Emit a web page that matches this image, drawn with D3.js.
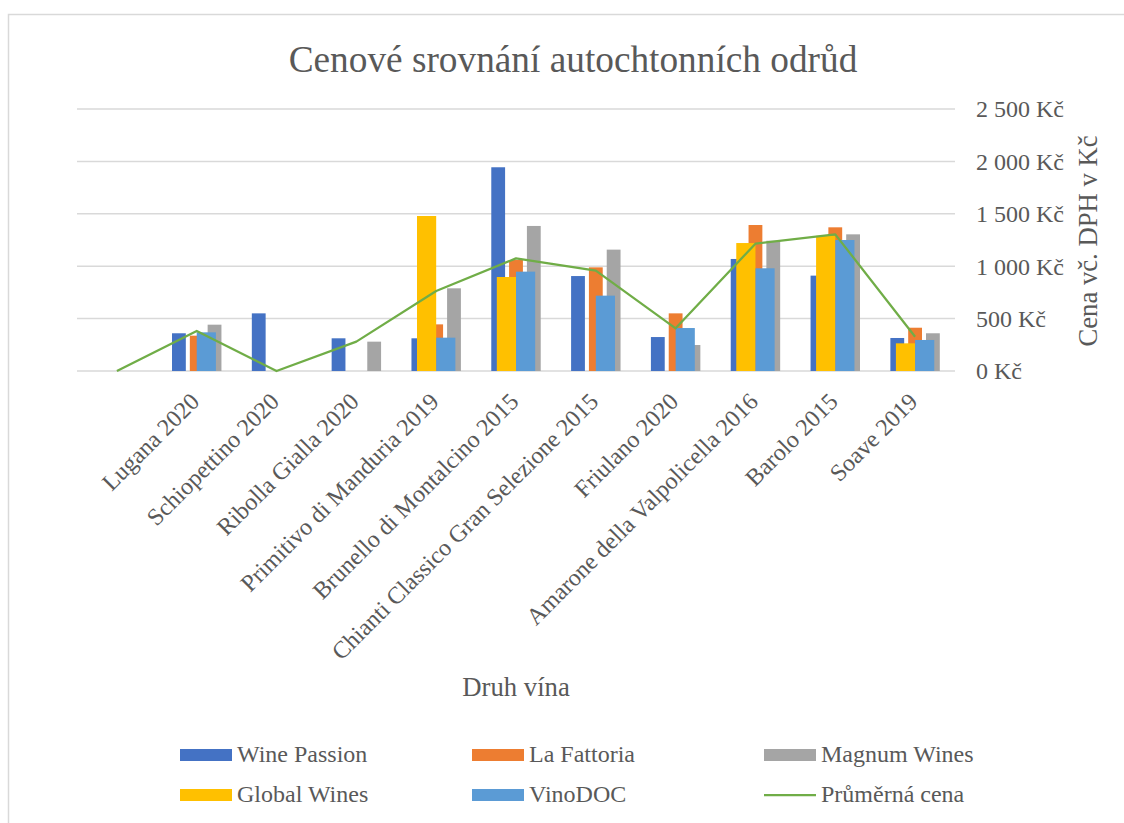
<!DOCTYPE html>
<html><head><meta charset="utf-8">
<script src="https://cdn.jsdelivr.net/npm/d3@7"></script>
<style>body{margin:0;background:#fff}svg{display:block}</style>
</head><body>
<script>
const categories = ["", "Lugana 2020", "Schiopettino 2020", "Ribolla Gialla 2020", "Primitivo di Manduria 2019", "Brunello di Montalcino 2015", "Chianti Classico Gran Selezione 2015", "Friulano 2020", "Amarone della Valpolicella 2016", "Barolo 2015", "Soave 2019"];
const winePassion = [null, 360, 550, 312, 312, 1944, 906, 324, 1069, 910, 315];
const laFattoria  = [null, 337, null, null, 445, 1059, 989, 550, 1393, 1371, 413];
const magnumWines = [null, 442, null, 280, 789, 1384, 1158, 248, 1243, 1304, 360];
const globalWines = [null, null, null, null, 1479, 897, null, null, 1221, 1290, 264];
const vinoDOC     = [null, 369, null, null, 318, 948, 719, 410, 980, 1250, 296];
const prumernaCena = [0, 382, 0, 280, 763, 1075, 957, 407, 1215, 1304, 327];
const yTicks = [0, 500, 1000, 1500, 2000, 2500];
const seriesNames = ["Wine Passion", "La Fattoria", "Magnum Wines", "Global Wines", "VinoDOC", "Průměrná cena"];

const colors = {"Wine Passion":"#4472C4","La Fattoria":"#ED7D31","Magnum Wines":"#A5A5A5","Global Wines":"#FFC000","VinoDOC":"#5B9BD5","Průměrná cena":"#70AD47"};
const W = 1124, H = 823;
const FONT = "'Liberation Serif','Times New Roman',serif";
const TXT = "#595959";
const svg = d3.select("body").append("svg").attr("width", W).attr("height", H).style("font-family", FONT);

svg.append("rect").attr("x", 8.5).attr("y", 14.5).attr("width", 1300).attr("height", 1000)
  .attr("fill", "#fff").attr("stroke", "#D9D9D9").attr("stroke-width", 1.5);

const plot = {left: 77, right: 955, top: 109, bottom: 371};
const x = d3.scaleBand().domain(categories).range([plot.left, plot.right]).padding(0);
const y = d3.scaleLinear().domain([0, 2500]).range([plot.bottom, plot.top]);

// gridlines
svg.append("g").selectAll("line").data(yTicks).join("line")
  .attr("x1", plot.left).attr("x2", plot.right)
  .attr("y1", d => y(d)).attr("y2", d => y(d))
  .attr("stroke", "#D9D9D9").attr("stroke-width", 1.5);

// right axis labels
const yAxis = d3.axisRight(y).tickValues(yTicks).tickSize(0).tickPadding(0)
  .tickFormat(d => d3.format(",")(d).replace(/,/g, " ") + " Kč");
const ya = svg.append("g").attr("transform", `translate(976,0)`).call(yAxis);
ya.select(".domain").remove();
ya.selectAll("text").attr("fill", TXT).style("font-size", "24px").style("font-family", FONT).attr("dy", "0.33em");

// bar groups (Excel-like: gap width / overlap)
const bw = x.bandwidth();
function groupLayout(n, gap, overlap) {
  const w = bw / (n - (n - 1) * overlap + gap);
  const step = w * (1 - overlap);
  const total = w + step * (n - 1);
  return i => ({off: -total / 2 + i * step, w});
}
const groupA = [["Wine Passion", winePassion], ["La Fattoria", laFattoria], ["Magnum Wines", magnumWines]];
const groupB = [["Global Wines", globalWines], ["VinoDOC", vinoDOC]];
function drawGroup(group, gap, overlap) {
  const lay = groupLayout(group.length, gap, overlap);
  group.forEach(([name, vals], i) => {
    const l = lay(i);
    svg.append("g").selectAll("rect")
      .data(categories.map((c, k) => ({c, v: vals[k]})).filter(d => d.v != null))
      .join("rect")
      .attr("x", d => x(d.c) + bw / 2 + l.off)
      .attr("width", l.w)
      .attr("y", d => y(d.v))
      .attr("height", d => y(0) - y(d.v))
      .attr("fill", colors[name]);
  });
}
drawGroup(groupA, 2.2, -0.29);
drawGroup(groupB, 2.16, 0);

// average line
const line = d3.line().x((d, i) => x(categories[i]) + bw / 2).y(d => y(d));
svg.append("path").datum(prumernaCena).attr("d", line)
  .attr("fill", "none").attr("stroke", colors["Průměrná cena"]).attr("stroke-width", 2.25).attr("stroke-linejoin", "round");

// category labels
svg.append("g").selectAll("text").data(categories.filter(c => c !== "")).join("text")
  .attr("transform", d => `translate(${x(d) + bw / 2 + 4},403) rotate(-45)`)
  .attr("text-anchor", "end").attr("fill", TXT).style("font-size", "24px").text(d => d);

// title
svg.append("text").attr("x", 573).attr("y", 72).attr("text-anchor", "middle")
  .attr("fill", TXT).style("font-size", "37.3px").text("Cenové srovnání autochtonních odrůd");

// axis titles
svg.append("text").attr("x", 516).attr("y", 696).attr("text-anchor", "middle")
  .attr("fill", TXT).style("font-size", "26.7px").text("Druh vína");
svg.append("text").attr("transform", "translate(1097,241) rotate(-90)").attr("text-anchor", "middle")
  .attr("fill", TXT).style("font-size", "26.7px").text("Cena vč. DPH v Kč");

// legend
const legX = [180, 472, 764], legY = [749, 789];
const leg = svg.append("g").selectAll("g").data(seriesNames).join("g")
  .attr("transform", (d, i) => `translate(${legX[i % 3]},${legY[Math.floor(i / 3)]})`);
leg.filter(d => d !== "Průměrná cena").append("rect").attr("width", 52).attr("height", 12).attr("fill", d => colors[d]);
leg.filter(d => d === "Průměrná cena").append("line").attr("x1", 0).attr("x2", 52).attr("y1", 6).attr("y2", 6)
  .attr("stroke", d => colors[d]).attr("stroke-width", 2.25);
leg.append("text").attr("x", 57).attr("y", 13).attr("fill", TXT).style("font-size", "24px").text(d => d);
</script>
</body></html>
